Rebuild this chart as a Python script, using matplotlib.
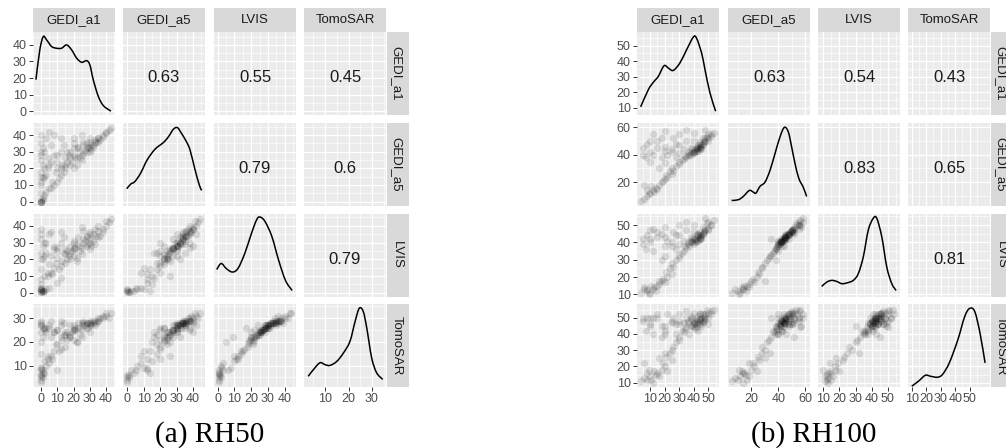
import numpy as np
import matplotlib
matplotlib.use("Agg")
import matplotlib.pyplot as plt
from matplotlib.path import Path
from matplotlib.patches import PathPatch

plt.rcParams['font.family'] = ['Liberation Sans', 'DejaVu Sans']

names = ["GEDI_a1", "GEDI_a5", "LVIS", "TomoSAR"]

# ---- RH50 samples ----
rh50_a1 = [0, 0, 1, 0, 2, 0, 1, 3, 0, 5, 0, 2, 6, 10, 0, 4, 8, 12,
           15, 18, 20, 0, 2, 14, 22, 10, 16, 5, 25, 0, 20, 12,
           28, 30, 25, 32, 18, 26, 30, 35, 22, 10, 3, 28, 33, 24, 15, 30, 20, 8,
           38, 40, 35, 42, 30, 25, 5, 36, 43, 12, 0, 1, 2, 0, 4, 0,
           6, 8, 12, 16, 18, 20, 24, 26, 28, 30, 32, 34, 27, 29, 31, 15, 17, 19, 21, 23,
           9, 11, 13, 7, 3, 1, 0, 6, 35, 38, 40, 0, 1, 0, 33, 26, 14, 10, 22, 20]
rh50_a5 = [0, 1, 2, 0, 4, 10, 14, 6, 0, 8, 12, 15, 8, 12, 18, 20, 10, 16,
           20, 22, 20, 25, 30, 18, 26, 24, 30, 22, 25, 35, 28, 20,
           30, 32, 28, 33, 30, 34, 30, 36, 32, 28, 38, 35, 35, 26, 26, 38, 35, 40,
           40, 42, 38, 43, 36, 40, 42, 37, 44, 38, 28, 32, 20, 40, 26, 15,
           24, 28, 30, 24, 26, 32, 30, 29, 32, 34, 34, 36, 31, 33, 31, 22, 28, 24, 27, 33,
           18, 14, 22, 12, 16, 22, 30, 34, 38, 39, 41, 0, 1, 5, 37, 36, 34, 20, 22, 38]
rh50_lvis = [1, 0.5, 1, 2, 1, 2, 1, 2, 0.5, 3, 8, 10, 12, 6, 14, 12, 15, 9,
             18, 20, 22, 20, 22, 24, 19, 21, 25, 17, 23, 24, 26, 16,
             28, 30, 27, 31, 28, 32, 26, 33, 29, 27, 30, 34, 29, 25, 26, 35, 31, 28,
             38, 40, 37, 42, 36, 39, 35, 34, 44, 36, 32, 20, 30, 38, 10, 5,
             22, 26, 30, 20, 24, 30, 28, 30, 33, 32, 35, 34, 31, 29, 28, 23, 22, 25, 27, 33,
             18, 14, 19, 11, 24, 28, 35, 36, 40, 36, 43, 1.5, 0.5, 3, 38, 37, 33, 25, 21, 27]
rh50_tomo = [4, 6, 8, 5, 7, 9, 7, 10, 3, 11, 9, 12, 14, 8, 15, 13, 16, 22,
             18, 22, 21, 24, 25, 23, 20, 19, 24, 26, 22, 27, 25, 17,
             26, 27, 25, 28, 27, 28, 24, 29, 26, 25, 26, 28, 27, 23, 24, 29, 26, 24,
             30, 31, 29, 30, 28, 28, 27, 30, 32, 29, 27, 22, 26, 29, 14, 20,
             22, 24, 27, 21, 23, 27, 26, 27, 28, 28, 29, 28, 27, 26, 27, 23, 22, 24, 25, 28,
             19, 16, 21, 13, 24, 26, 28, 29, 30, 31, 32, 6, 5, 8, 29, 29, 28, 25, 20, 25]

# ---- RH100 samples ----
rh100_a1 = [8, 10, 12, 15, 18, 20, 14, 6, 22, 16, 9, 25,
            25, 28, 20, 30, 12, 26, 32, 18,
            5, 8, 10, 15, 20, 12, 25, 7, 18, 22, 28, 10,
            38, 40, 42, 44, 45, 40, 42, 46, 48, 36, 50, 43, 39, 41, 52, 35, 44, 47,
            38, 42, 45, 33, 40, 50, 37, 44, 54, 30, 46, 43,
            30, 35, 20, 48, 4, 6,
            40, 42, 44, 46, 41, 43, 45, 38, 47, 39, 36, 48, 50, 34, 44, 25, 15, 30,
            10, 20, 5, 35, 28, 33, 30, 24, 21, 16, 13, 11, 19, 8, 52, 49, 40, 26]
rh100_a5 = [10, 12, 14, 15, 20, 22, 16, 18, 24, 30, 11, 26,
            30, 32, 34, 35, 40, 28, 36, 38,
            45, 48, 42, 50, 46, 55, 44, 38, 52, 40, 48, 35,
            40, 42, 43, 45, 46, 41, 44, 48, 50, 42, 52, 45, 44, 42, 55, 38, 47, 50,
            45, 46, 48, 44, 50, 55, 40, 44, 56, 41, 52, 43,
            55, 58, 57, 58, 6, 8,
            43, 45, 46, 47, 44, 47, 44, 42, 49, 41, 40, 52, 50, 39, 49, 42, 45, 47,
            50, 43, 40, 50, 38, 37, 33, 28, 25, 18, 13, 17, 21, 14, 54, 53, 56, 52]
rh100_lvis = [12, 11, 13, 15, 18, 17, 12, 14, 20, 18, 10, 22,
              28, 30, 32, 33, 35, 26, 34, 30,
              42, 44, 40, 46, 43, 48, 38, 36, 45, 41, 44, 42,
              40, 42, 41, 43, 44, 39, 42, 45, 47, 40, 48, 43, 42, 40, 50, 37, 44, 46,
              43, 45, 42, 41, 46, 52, 38, 42, 53, 39, 49, 41,
              50, 52, 49, 54, 11, 13,
              42, 44, 42, 45, 41, 45, 43, 41, 46, 40, 39, 48, 47, 38, 46, 40, 43, 44,
              47, 38, 39, 47, 36, 35, 31, 25, 23, 16, 14, 15, 19, 13, 50, 51, 50, 46]
rh100_tomo = [12, 14, 10, 16, 18, 20, 15, 22, 17, 25, 18, 24,
              30, 35, 28, 38, 40, 32, 42, 45,
              48, 50, 45, 52, 40, 50, 47, 42, 38, 52, 46, 50,
              45, 47, 48, 49, 50, 46, 44, 52, 51, 48, 53, 47, 50, 43, 54, 44, 46, 48,
              51, 49, 45, 47, 53, 50, 40, 52, 55, 46, 47, 42,
              48, 50, 45, 52, 11, 13,
              48, 46, 49, 48, 47, 51, 48, 49, 50, 45, 47, 49, 46, 43, 53, 48, 50, 52,
              46, 42, 50, 54, 40, 41, 36, 28, 26, 14, 17, 12, 22, 16, 52, 55, 44, 50]

# ---- diagonal density curves, in the units shown on each panel's axes ----
rh50_dens_a1_x = [-3.2, -0.8, 1.3, 3.4, 6.5, 9.5, 12.6, 15.7, 18.8, 21.9, 25, 28, 30, 32.1, 35.2, 38.3, 43]
rh50_dens_a1_y = [19, 37, 45, 43, 39, 38, 38, 40, 37, 32, 29.5, 30.5, 28, 19, 9, 3.4, 0]
rh50_dens_a5_x = [-0.4, 2, 4.5, 8, 12, 16.8, 21.9, 25, 28, 30.5, 33, 36, 38.2, 41, 43.8, 45.3]
rh50_dens_a5_y = [7.7, 10.5, 12, 17, 25, 31.5, 35.5, 39, 43.5, 44.5, 41, 36, 31, 20, 10, 6.7]
rh50_dens_lvis_x = [-0.6, 2.1, 5.1, 8.7, 12.1, 16.2, 20.2, 23.3, 25.3, 28.3, 32.4, 36.4, 40.5, 44.5]
rh50_dens_lvis_y = [13.9, 17.5, 14.5, 12.4, 14.5, 23.5, 35.5, 43.6, 45.2, 42.5, 33.5, 19.5, 7.4, 1.4]
rh50_dens_tomo_x = [2.8, 5.0, 7.8, 10, 12.1, 15, 17.8, 20.6, 22.8, 24.6, 26.3, 27.8, 29.9, 32, 34.6]
rh50_dens_tomo_y = [5.5, 8.3, 11.2, 10.4, 10.1, 11.8, 15.3, 20.2, 28.6, 34.2, 32.8, 25.8, 13.2, 7, 4.2]

rh100_dens_a1_x = [3.6, 8.9, 12.3, 15.7, 19.6, 22.5, 25.9, 30.5, 35.1, 39.7, 41.9, 45.4, 47.7, 51.1, 55]
rh100_dens_a1_y = [10.6, 21.7, 26.4, 30.2, 37, 35.6, 34, 38.8, 47.3, 55.4, 54.7, 45.1, 34.5, 19.6, 7.8]
rh100_dens_a5_x = [5.5, 10.4, 14.1, 18.6, 21.5, 23.5, 26.5, 30.2, 33.9, 37.6, 41.3, 44.5, 47.4, 49.9, 52.4, 55.3, 58.5, 61]
rh100_dens_a5_y = [6.6, 7.1, 9.5, 13.9, 12.7, 12, 16.9, 20, 28.6, 40.9, 53.1, 60, 56.8, 45.8, 33.6, 22.5, 16.3, 9.5]
rh100_dens_lvis_x = [9, 12.1, 15.2, 18.3, 21.4, 24.5, 28.6, 31.7, 34.8, 37.9, 41, 43.2, 46.3, 49.4, 52.5, 55.2]
rh100_dens_lvis_y = [14.6, 17.1, 18.1, 17.5, 16.2, 16.6, 18.1, 22, 31.6, 47.1, 53.9, 53.9, 43.2, 25.8, 16.2, 12.3]
rh100_dens_tomo_x = [10, 14.7, 19.4, 22.9, 27.7, 31.2, 35.9, 41.8, 46.5, 50, 53.5, 57.1, 60.6]
rh100_dens_tomo_y = [7.9, 11, 14.6, 14, 13.4, 15.1, 22.2, 36.4, 50.6, 55.7, 53.7, 40.5, 22.2]

# correlations, upper triangle order (1,2),(1,3),(1,4),(2,3),(2,4),(3,4)
rh50_corr = ["0.63", "0.55", "0.45", "0.79", "0.6", "0.79"]
rh100_corr = ["0.63", "0.54", "0.43", "0.83", "0.65", "0.81"]

# axis ranges / ticks as shown
rh50_col_lims = [(-5.0, 45.5), (-2.7, 47.3), (-2.2, 46.8), (1.0, 36.0)]
rh50_row_lims = [(-2.0, 47.8), (-2.4, 47.3), (-2.2, 47.0), (1.2, 36.0)]
rh50_col_ticks = [[0, 10, 20, 30, 40]] * 3 + [[10, 20, 30]]
rh50_row_ticks = [[0, 10, 20, 30, 40]] * 3 + [[10, 20, 30]]

rh100_col_lims = [(1.1, 57.3), (2.8, 63.5), (6.7, 57.6), (7.4, 64.0)]
rh100_row_lims = [(5.7, 58.7), (2.9, 63.2), (8.8, 56.4), (7.7, 58.4)]
rh100_col_ticks = [[10, 20, 30, 40, 50], [20, 40, 60], [10, 20, 30, 40, 50], [10, 20, 30, 40, 50]]
rh100_row_ticks = [[10, 20, 30, 40, 50], [20, 40, 60], [10, 20, 30, 40, 50], [10, 20, 30, 40, 50]]

W, H = 1006, 448
fig = plt.figure(figsize=(W / 100, H / 100), dpi=100)


def rect(x, y, w, h):
    return [x / W, 1 - (y + h) / H, w / W, h / H]


def minors(major, lo, hi):
    step = major[1] - major[0]
    m = np.arange(major[0] - step * 2.5, hi + step, step)
    return [v for v in m if lo <= v <= hi]


def smooth_path(xs, ys):
    # draw the read points as a smooth bezier path (catmull-rom control points)
    p = np.column_stack([xs, ys]).astype(float)
    ext = np.vstack([p[0], p, p[-1]])
    verts = [p[0]]
    codes = [Path.MOVETO]
    for i in range(1, len(ext) - 2):
        c1 = ext[i] + (ext[i + 1] - ext[i - 1]) / 6
        c2 = ext[i + 1] - (ext[i + 2] - ext[i]) / 6
        verts += [c1, c2, ext[i + 1]]
        codes += [Path.CURVE4] * 3
    return Path(verts, codes)


rows_y = [32, 123, 214, 304]
PW, PH = 82, 82.5
upper = [(0, 1), (0, 2), (0, 3), (1, 2), (1, 3), (2, 3)]


def draw_matrix(cols_x, data, dens, corr, col_lims, row_lims, col_ticks, row_ticks, caption):
    for r in range(4):
        for c in range(4):
            ax = fig.add_axes(rect(cols_x[c], rows_y[r], PW, PH))
            ax.set_facecolor("#EBEBEB")
            for s in ax.spines.values():
                s.set_visible(False)
            ax.set_xlim(col_lims[c])
            ax.set_ylim(row_lims[r])
            ax.set_xticks(col_ticks[c])
            ax.set_yticks(row_ticks[r])
            ax.set_xticks(minors(col_ticks[c], *col_lims[c]), minor=True)
            ax.set_yticks(minors(row_ticks[r], *row_lims[r]), minor=True)
            ax.set_axisbelow(True)
            ax.grid(which="major", color="white", lw=0.9)
            ax.grid(which="minor", color="white", lw=0.45)
            ax.tick_params(which="minor", length=0)
            ax.tick_params(which="major", length=3, width=0.7, color="#333333",
                           labelcolor="#4D4D4D", labelsize=9, pad=1.5)
            if r < 3:
                ax.tick_params(axis="x", length=0, labelbottom=False)
            if c > 0:
                ax.tick_params(axis="y", length=0, labelleft=False)

            if r == c:
                ax.add_patch(PathPatch(smooth_path(*dens[c]), fill=False,
                                       edgecolor="black", lw=1.1))
            elif r > c:
                ax.scatter(data[c], data[r], s=28, color="black", alpha=0.11, linewidths=0)
            else:
                ax.text(0.5, 0.45, corr[upper.index((r, c))],
                        transform=ax.transAxes, ha="center", va="center",
                        fontsize=12, color="#1A1A1A")

    # strips
    for c in range(4):
        sa = fig.add_axes(rect(cols_x[c], 8, PW, 24))
        sa.set_facecolor("#D9D9D9")
        sa.set_xticks([]); sa.set_yticks([])
        for s in sa.spines.values():
            s.set_visible(False)
        sa.text(0.5, 0.5, names[c], ha="center", va="center", fontsize=9.5, color="#1A1A1A",
                transform=sa.transAxes)
    for r in range(4):
        sa = fig.add_axes(rect(cols_x[3] + PW + 1, rows_y[r], 22, PH))
        sa.set_facecolor("#D9D9D9")
        sa.set_xticks([]); sa.set_yticks([])
        for s in sa.spines.values():
            s.set_visible(False)
        sa.text(0.43, 0.5, names[r], ha="center", va="center", rotation=-90, fontsize=9.5,
                color="#1A1A1A", transform=sa.transAxes)

    mid = (cols_x[0] + cols_x[3] + PW) / 2
    fig.text(mid / W, 1 - 435 / H, caption, ha="center", va="center",
             family=["Liberation Serif", "DejaVu Serif"], fontsize=21)


draw_matrix([33, 123, 214, 304],
            [rh50_a1, rh50_a5, rh50_lvis, rh50_tomo],
            [(rh50_dens_a1_x, rh50_dens_a1_y), (rh50_dens_a5_x, rh50_dens_a5_y),
             (rh50_dens_lvis_x, rh50_dens_lvis_y), (rh50_dens_tomo_x, rh50_dens_tomo_y)],
            rh50_corr, rh50_col_lims, rh50_row_lims, rh50_col_ticks, rh50_row_ticks,
            "(a) RH50")

draw_matrix([637, 728, 818, 908],
            [rh100_a1, rh100_a5, rh100_lvis, rh100_tomo],
            [(rh100_dens_a1_x, rh100_dens_a1_y), (rh100_dens_a5_x, rh100_dens_a5_y),
             (rh100_dens_lvis_x, rh100_dens_lvis_y), (rh100_dens_tomo_x, rh100_dens_tomo_y)],
            rh100_corr, rh100_col_lims, rh100_row_lims, rh100_col_ticks, rh100_row_ticks,
            "(b) RH100")

fig.savefig("out.png", dpi=100)
